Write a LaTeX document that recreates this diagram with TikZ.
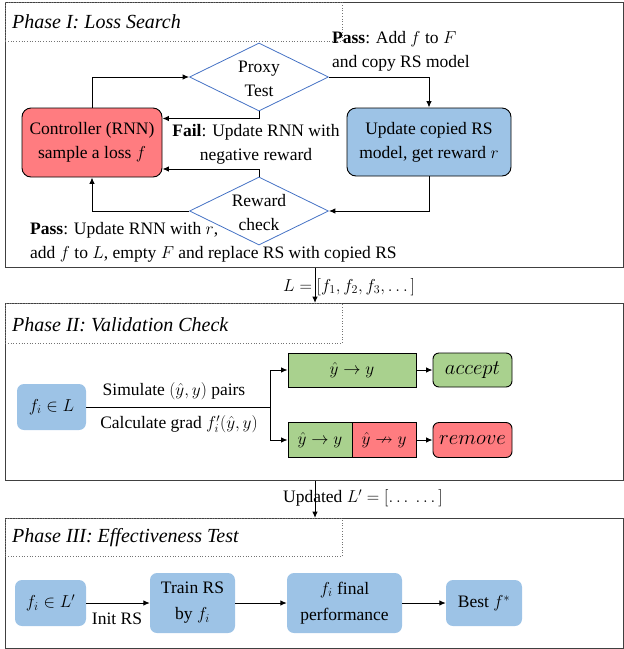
\documentclass[tikz,border=0pt]{standalone}
\usepackage{amsmath,amssymb}
\usepackage{fontspec}
\setmainfont{Liberation Serif}
\usetikzlibrary{shapes.geometric,arrows.meta}
\definecolor{myred}{HTML}{FF7C80}
\definecolor{myblue}{HTML}{9DC3E6}
\definecolor{mygreen}{HTML}{A9D18E}
\definecolor{diablue}{HTML}{4472C4}
\begin{document}
\begin{tikzpicture}[x=1pt,y=-1pt,
  base/.style={font=\fontsize{17.5}{24}\selectfont, inner sep=0pt},
  txt/.style={base, align=center},
  ltxt/.style={base, align=left, anchor=west},
  ttl/.style={font=\fontsize{20}{24}\selectfont\itshape, inner sep=0pt, anchor=west},
  frame/.style={draw=black!75, line width=0.8pt, anchor=north west, inner sep=0pt},
  titlebox/.style={draw=black!55, dotted, line width=0.7pt, anchor=north west, inner sep=0pt, minimum width=337pt},
  rbox/.style={base, draw=black, line width=0.9pt, rounded corners=9pt, align=center},
  bbox/.style={base, fill=myblue, rounded corners=7pt, align=center},
  sq/.style={base, draw=black, line width=0.8pt, align=center},
  dia/.style={diamond, draw=diablue, line width=0.8pt, minimum width=139pt, minimum height=68pt, inner sep=0pt},
  arr/.style={draw, line width=1pt, -{Latex[length=6.5pt,width=5.5pt]}},
  ln/.style={draw, line width=1pt}]
\useasboundingbox (0,0) rectangle (624,649);
% ---------- Phase I ----------
\node[frame, minimum width=618pt, minimum height=265pt] (ph1) at (5,2) {};
\node[titlebox, minimum height=39pt] (t1) at (5,2) {};
\node[ttl] (t1t) at (12,22) {Phase I: Loss Search};
\node[rbox, fill=myred, minimum width=140pt, minimum height=69pt] (ctrl) at (92,142.5) {Controller (RNN)\\sample a loss $f$};
\node[rbox, fill=myblue, minimum width=164pt, minimum height=68pt] (upd) at (429,142) {Update copied RS\\model, get reward $r$};
\node[dia] (proxy) at (259,77) {};
\node[txt] (proxyt) at (259,79) {Proxy\\Test};
\node[dia] (rew) at (259,211) {};
\node[txt] (rewt) at (259,213) {Reward\\check};
\draw[arr] (ctrl.north) |- (proxy.west);
\draw[arr] (proxy.east) -| (upd.north);
\draw[arr] (proxy.south) |- ([yshift=24pt]ctrl.east);
\draw[arr] (upd.south) |- (rew.east);
\draw[arr] (rew.north) |- ([yshift=-26.5pt]ctrl.east);
\draw[arr] (rew.west) -| (ctrl.south);
\node[ltxt] (passA) at (332,51) {\textbf{Pass}: Add $f$ to $F$\\and copy RS model};
\node[txt] (fail) at (256,144) {\textbf{Fail}: Update RNN with\\negative reward};
\node[ltxt] (passB) at (30,242) {\textbf{Pass}: Update RNN with $r$,\\add $f$ to $L$, empty $F$ and replace RS with copied RS};
% ---------- link I -> II ----------
\coordinate (xa) at (315,0);
\node[frame, minimum width=618pt, minimum height=177pt] (ph2) at (5,303) {};
\draw[arr] (ph1.south -| xa) -- (ph2.north -| xa);
\node[ltxt] (Llist) at (283,287) {$L=[f_1,f_2,f_3,\dots]$};
% ---------- Phase II ----------
\node[titlebox, minimum height=40pt] (t2) at (5,303) {};
\node[ttl] (t2t) at (12,325) {Phase II: Validation Check};
\node[bbox, minimum width=69pt, minimum height=46pt] (fL) at (51.5,407) {$f_i\in L$};
\coordinate (br) at (270,407);
\node[sq, fill=mygreen, minimum width=128pt, minimum height=34pt] (g1) at (352,370) {$\hat{y}\rightarrow y$};
\node[rbox, fill=mygreen, rounded corners=6pt, minimum width=79pt, minimum height=34pt, font=\fontsize{20}{24}\selectfont] (acc) at (472.5,370) {$accept$};
\node[sq, fill=mygreen, minimum width=64pt, minimum height=35pt] (g2) at (320,440) {$\hat{y}\rightarrow y$};
\node[sq, fill=myred, minimum width=64pt, minimum height=35pt] (r2) at (384,440) {$\hat{y}\nrightarrow y$};
\node[rbox, fill=myred, rounded corners=6pt, minimum width=79pt, minimum height=35pt, font=\fontsize{20}{24}\selectfont] (rem) at (472.5,440) {$remove$};
\draw[ln] (fL.east) -- (br);
\draw[arr] (br) |- (g1.west);
\draw[arr] (br) |- (g2.west);
\draw[arr] (g1.east) -- (acc.west);
\draw[arr] (r2.east) -- (rem.west);
\node[txt] (sim) at (174,391) {Simulate $(\hat{y},y)$ pairs};
\node[txt] (calc) at (179,424) {Calculate grad $f_i'(\hat{y},y)$};
% ---------- link II -> III ----------
\node[frame, minimum width=618pt, minimum height=130pt] (ph3) at (5,518) {};
\draw[arr] (ph2.south -| xa) -- (ph3.north -| xa);
\node[ltxt] (Lupd) at (283,498) {Updated $L'=[\dots\ \dots]$};
% ---------- Phase III ----------
\node[titlebox, minimum height=38pt] (t3) at (5,518) {};
\node[ttl] (t3t) at (12,538) {Phase III: Effectiveness Test};
\node[bbox, minimum width=71pt, minimum height=46pt] (fL2) at (50.5,603) {$f_i\in L'$};
\node[bbox, minimum width=85pt, minimum height=60pt, font=\fontsize{17.5}{26}\selectfont] (tr) at (192.5,603) {Train RS\\by $f_i$};
\node[bbox, minimum width=115pt, minimum height=60pt, font=\fontsize{17.5}{26}\selectfont] (fp) at (344.5,603) {$f_i$ final\\performance};
\node[bbox, minimum width=76pt, minimum height=46pt] (best) at (484,603) {Best $f^*$};
\draw[arr] (fL2.east) -- (tr.west);
\draw[arr] (tr.east) -- (fp.west);
\draw[arr] (fp.east) -- (best.west);
\node[txt] (init) at (117,619) {Init RS};
\end{tikzpicture}
\end{document}
